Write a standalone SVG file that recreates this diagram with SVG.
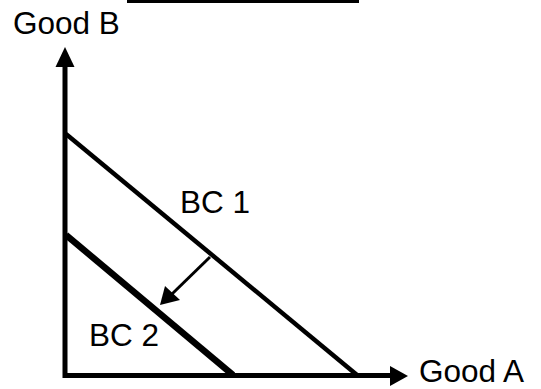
<svg xmlns="http://www.w3.org/2000/svg" width="541" height="389" viewBox="0 0 541 389">
<style>
.lbl{font-family:"Liberation Sans",Arial,sans-serif;font-size:31.5px;fill:#000}
.ln{stroke:#000;fill:none}
</style>
<rect width="541" height="389" fill="#fff"/>
<g id="topbar"><line class="ln" x1="127" y1="1.5" x2="359" y2="1.5" stroke-width="3"/></g>
<g id="connectors">
<g id="y-axis"><line class="ln" x1="65" y1="378" x2="65" y2="64" stroke-width="5"/><polygon points="65,47 55.5,67 74.5,67" fill="#000"/></g>
<g id="x-axis"><line class="ln" x1="63" y1="375.5" x2="392" y2="375.5" stroke-width="5"/><polygon points="408,376 390,366 390,386" fill="#000"/></g>
<g id="shift"><line class="ln" x1="210" y1="257" x2="172" y2="294" stroke-width="3"/><polygon points="160,305 165,286 180,300" fill="#000"/></g>
</g>
<g id="bc1"><line class="ln" x1="66" y1="134" x2="357" y2="375" stroke-width="4.5"/><text class="lbl" x="180" y="213">BC 1</text></g>
<g id="bc2"><line class="ln" x1="66" y1="235" x2="233" y2="375" stroke-width="6.5"/><text class="lbl" x="89" y="346">BC 2</text></g>
<g id="labelB"><text class="lbl" x="13" y="34">Good B</text></g>
<g id="labelA"><text class="lbl" x="419" y="382">Good A</text></g>
</svg>
